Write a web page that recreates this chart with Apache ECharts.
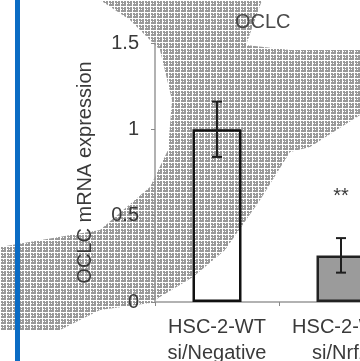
<!DOCTYPE html>
<html>
<head>
<meta charset="utf-8">
<script src="https://cdn.jsdelivr.net/npm/echarts@6/dist/echarts.min.js"></script>
<style>
  html, body { margin: 0; padding: 0; background: #fff; }
  #main { width: 360px; height: 361px; }
</style>
</head>
<body>
<div id="main"></div>
<script>
// 数据
var categories = ['HSC-2-WT\nsi/Negative', 'HSC-2-WT\nsi/Nrf2'];
var means = [1.0, 0.27];
var errors = [0.16, 0.10];
var sigMarks = ['', '**'];

var myChart = echarts.init(document.getElementById('main'));

// 半色调网点纹理
var tile = document.createElement('canvas');
tile.width = 6;
tile.height = 6;
var ctx = tile.getContext('2d');
ctx.fillStyle = '#999999';
ctx.fillRect(1, 1, 5, 5);
ctx.clearRect(3, 3, 1, 1);
ctx.clearRect(3, 1, 1, 1);
ctx.clearRect(1, 3, 1, 1);

var font = '"Liberation Sans", Arial, sans-serif';
var textColor = '#3a3a3a';

function renderErr(params, api) {
    var i = api.value(0);
    var m = api.value(1);
    var e = api.value(2);
    var hi = api.coord([i, m + e]);
    var lo = api.coord([i, m - e]);
    var w = 5;
    var st = { stroke: '#1e1e1e', lineWidth: 2 };
    var kids = [
        { type: 'line', shape: { x1: hi[0], y1: hi[1], x2: lo[0], y2: lo[1] }, style: st },
        { type: 'line', shape: { x1: hi[0] - w, y1: hi[1], x2: hi[0] + w, y2: hi[1] }, style: st },
        { type: 'line', shape: { x1: lo[0] - w, y1: lo[1], x2: lo[0] + w, y2: lo[1] }, style: st }
    ];
    if (sigMarks[i]) {
        kids.push({
            type: 'text',
            style: {
                text: sigMarks[i], x: hi[0], y: hi[1] - 42,
                align: 'center', verticalAlign: 'middle',
                font: '20px ' + font, fill: textColor
            }
        });
    }
    return { type: 'group', children: kids };
}

var option = {
    backgroundColor: '#fff',
    animation: false,
    title: {
        text: 'OCLC',
        left: 230,
        top: 7,
        textStyle: { fontFamily: font, fontSize: 20, fontWeight: 'normal', color: '#4a4a4a' }
    },
    grid: { left: 155, top: 43, width: 248, height: 259, containLabel: false, outerBoundsMode: 'none' },
    xAxis: {
        type: 'category',
        data: categories,
        axisLine: { lineStyle: { color: '#999', width: 1.5 } },
        axisTick: { show: true, length: 4, lineStyle: { color: '#888' } },
        axisLabel: {
            margin: 12, fontFamily: font, fontSize: 20, lineHeight: 26,
            color: textColor, interval: 0
        }
    },
    yAxis: {
        type: 'value',
        min: 0,
        max: 1.5,
        interval: 0.5,
        name: 'OCLC mRNA expression',
        nameLocation: 'middle',
        nameRotate: 90,
        nameGap: 60,
        nameTextStyle: { fontFamily: font, fontSize: 20, color: textColor },
        axisLine: { show: true, lineStyle: { color: '#999', width: 1.5 } },
        axisTick: { show: true, length: 4, lineStyle: { color: '#888' } },
        splitLine: { show: false },
        axisLabel: { margin: 16, fontFamily: font, fontSize: 20, color: textColor }
    },
    graphic: [
        {
            type: 'polygon',
            z: -10,
            shape: {
                points: [
                    [100, 0], [262, 0], [246, 45], [290, 50], [360, 50], [360, 115],
                    [310, 147], [290, 152], [260, 200], [225, 250], [193, 277],
                    [150, 303], [100, 310], [60, 330], [0, 330], [0, 247],
                    [100, 230], [150, 187], [168, 150], [172, 100], [160, 50], [130, 20]
                ]
            },
            style: { fill: { image: tile, repeat: 'repeat' } }
        },
        {
            type: 'rect',
            z: 100,
            shape: { x: 15, y: 0, width: 5, height: 361 },
            style: { fill: '#0b6cc4' }
        }
    ],
    series: [
        {
            type: 'bar',
            barWidth: 49,
            data: means.map(function (v, i) {
                return {
                    value: v,
                    itemStyle: i === 0
                        ? { color: 'rgba(255,255,255,0)', borderColor: '#111', borderWidth: 2.5 }
                        : { color: '#9b9b9b', borderColor: '#222', borderWidth: 2.5 }
                };
            })
        },
        {
            type: 'custom',
            renderItem: renderErr,
            z: 5,
            data: means.map(function (v, i) { return [i, v, errors[i]]; })
        }
    ]
};
myChart.setOption(option);
</script>
</body>
</html>
